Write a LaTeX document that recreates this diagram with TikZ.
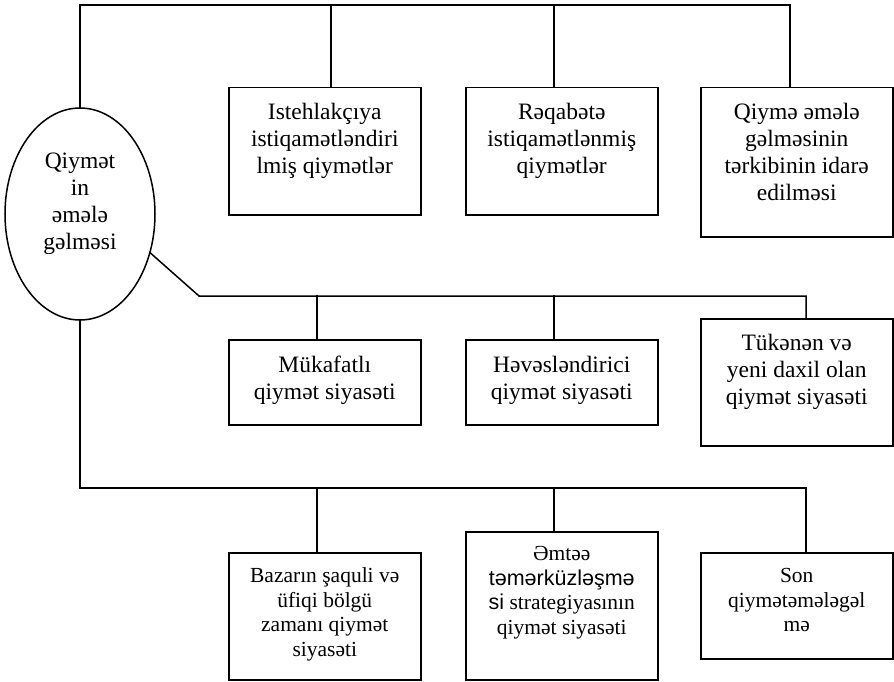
\documentclass[tikz,border=0pt]{standalone}
\usepackage{fontspec}
\setmainfont{Liberation Serif}
\newfontfamily\arialf{Liberation Sans}
\usetikzlibrary{shapes.geometric}

% text block of fixed size, first baseline #2 below its top edge
\newcommand{\cellbox}[4]{\parbox[t][#1pt][t]{192pt}{\centering\rule{0pt}{#2pt}#4\par}}
\newcommand{\bigtxt}{\fontsize{23.5}{27}\selectfont}
\newcommand{\smalltxt}{\fontsize{21.5}{24.5}\selectfont}

\tikzset{
  wire/.style={line width=1.5pt, line cap=rect},
  cell/.style={draw, line width=1.5pt, inner sep=0pt, anchor=north west},
  oval/.style={draw, ellipse, line width=1.5pt, inner sep=0pt,
               minimum width=150pt, minimum height=212pt},
}

\begin{document}
\begin{tikzpicture}[x=1pt, y=-1pt]
\useasboundingbox (0,0) rectangle (894,682);

% central ellipse
\node[oval] (root) at (80,214) {};
\node[inner sep=0pt, anchor=north] (roottxt) at (80,135)
  {\parbox[t]{120pt}{\bigtxt\centering\rule{0pt}{33pt}Qiymət\\in\\əmələ\\gəlməsi\par}};

% first row
\node[cell] (b1) at (228,87)
  {\cellbox{127}{32}{}{\bigtxt Istehlakçıya\\istiqamətləndiri\\lmiş qiymətlər}};
\node[cell] (b2) at (465,87)
  {\cellbox{127}{32}{}{\bigtxt Rəqabətə\\istiqamətlənmiş\\qiymətlər}};
\node[cell] (b3) at (700,87)
  {\cellbox{149}{32}{}{\bigtxt Qiymə əmələ\\gəlməsinin\\tərkibinin idarə\\edilməsi}};

% second row
\node[cell] (b4) at (228,339)
  {\cellbox{85}{33}{}{\bigtxt Mükafatlı\\qiymət siyasəti}};
\node[cell] (b5) at (465,339)
  {\cellbox{85}{33}{}{\bigtxt Həvəsləndirici\\qiymət siyasəti}};
\node[cell] (b6) at (700,318)
  {\cellbox{127}{32}{}{\bigtxt Tükənən və\\yeni daxil olan\\qiymət siyasəti}};

% third row
\node[cell] (b7) at (228,552)
  {\cellbox{127}{30}{}{\smalltxt Bazarın şaquli və\\üfiqi bölgü\\zamanı qiymət\\siyasəti}};
\node[cell] (b8) at (465,531)
  {\cellbox{148}{29}{}{\smalltxt Əmtəə\\{\arialf təmərküzləşmə}\\{\arialf si} strategiyasının\\qiymət siyasəti}};
\node[cell] (b9) at (700,552)
  {\cellbox{106}{30}{}{\smalltxt Son\\qiymətəmələgəl\\mə}};

% junction points on the three buses
\coordinate (t1) at (331,5);
\coordinate (t2) at (554,5);
\coordinate (t3) at (790,5);
\coordinate (m0) at (199,296);
\coordinate (m1) at (317,296);
\coordinate (m2) at (554,296);
\coordinate (m3) at (806,296);
\coordinate (u1) at (317,488);
\coordinate (u2) at (554,488);
\coordinate (u3) at (806,488);

% upper bus
\draw[wire] (root.north) |- (t3) -- (t3 |- b3.north);
\draw[wire] (t1) -- (t1 |- b1.north);
\draw[wire] (t2) -- (t2 |- b2.north);

% middle bus
\draw[wire] (root.-29) -- (m0) -- (m3) -- (m3 |- b6.north);
\draw[wire] (m1) -- (m1 |- b4.north);
\draw[wire] (m2) -- (m2 |- b5.north);

% lower bus
\draw[wire] (root.south) |- (u3) -- (u3 |- b9.north);
\draw[wire] (u1) -- (u1 |- b7.north);
\draw[wire] (u2) -- (u2 |- b8.north);
\end{tikzpicture}
\end{document}
